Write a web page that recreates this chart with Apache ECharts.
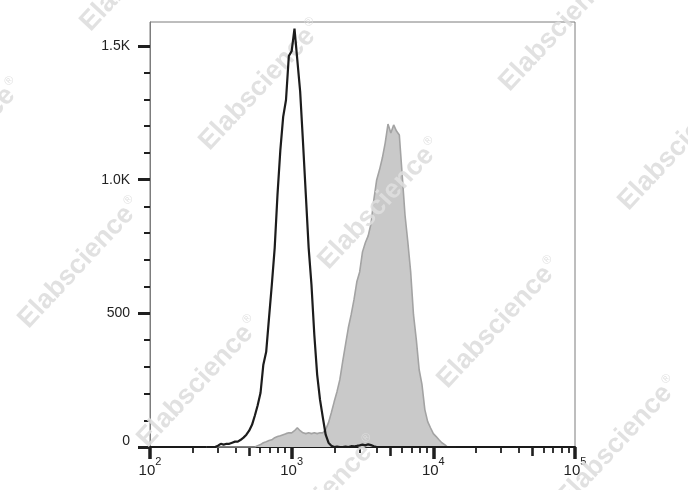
<!DOCTYPE html>
<html><head><meta charset="utf-8">
<script src="https://cdn.jsdelivr.net/npm/echarts@6/dist/echarts.min.js"></script>
<style>html,body{margin:0;padding:0;background:#fff}#chart{width:688px;height:490px}</style>
</head><body><div id="chart"></div>
<script>
// Fluorescence channel (bin centres, log-spaced)
const fluorescence = [251,263,275,288,302,316,331,347,363,380,398,417,437,457,479,501,525,550,575,603,631,661,692,724,759,794,832,871,912,955,
1000,1047,1096,1148,1202,1259,1318,1380,1445,1514,1585,1660,1738,1820,1905,1995,2089,2188,2291,2399,2512,2630,2754,2884,3020,3162,3311,3467,3631,3802,
3981,4169,4365,4571,4786,5012,5248,5495,5754,6026,6310,6607,6918,7244,7586,7943,8318,8710,9120,9550,
10000,10471,10965,11482,12023,12589,13183,13804,14454];
// Isotype control (black outline)
const isotypeCounts = [0,0,0,0,5,12,9,12,12,16,
20,20,27,35,46,61,83,118,155,203,
308,356,483,606,745,943,1111,1235,1298,1463,
1481,1565,1448,1330,1141,943,745,606,420,270,
177,110,46,16,5,0,2,0,0,2,
0,3,2,4,6,9,6,10,7,3,
0,0,0,0,0,0,0,0,0,0,
0,0,0,0,0,0,0,0,0,0,
0,0,0,0,0,0,0,0,0];
// Stained sample (grey filled)
const stainedCounts = [0,0,0,0,0,0,0,0,0,0,
0,0,0,0,0,0,0,0,5,9,
16,20,24,27,35,39,42,46,50,53,
53,61,72,61,53,50,53,50,53,50,
53,53,65,91,128,169,207,252,319,383,
446,495,551,618,655,730,764,790,835,925,
999,1037,1081,1137,1208,1175,1205,1182,1167,1018,
868,767,655,495,401,289,233,140,95,72,
50,39,27,16,9,0,0,0,0];
const yTickValues = [0,500,1000,1500];
const yTickLabels = ['0','500','1.0K','1.5K'];
const xDecadeExponents = [2,3,4,5];
const watermarkWord = 'Elabscience';

const FONT = '"Liberation Sans", Arial, Helvetica, sans-serif';
const chart = echarts.init(document.getElementById('chart'), null, {renderer:'canvas'});

const midTicks = [], minorTicks = [];
for (let d = 2; d < 5; d++) for (let m = 2; m <= 9; m++) {
  const v = d + Math.log10(m);
  (m === 5 ? midTicks : minorTicks).push(v);
}
const yMinor = [];
for (let v = 100; v < 1590; v += 100) if (v % 500) yMinor.push(v);

const watermarks = [];
for (let i = -2; i <= 5; i++) for (let j = -2; j <= 2; j++) {
  const cx = 261 + 119 * i + 181 * j, cy = 85 + 119 * i - 178 * j;
  if (cx < -120 || cx > 810 || cy < -100 || cy > 590) continue;
  watermarks.push({
    type: 'text', x: cx, y: cy, rotation: 47 * Math.PI / 180, z: 3, silent: true,
    style: {
      text: '{a|' + watermarkWord + '}{r|®}',
      align: 'center', verticalAlign: 'middle',
      rich: {
        a: {fontFamily: FONT, fontSize: 27, fontWeight: 'bold', fill: 'rgba(222,222,222,0.9)', color: 'rgba(222,222,222,0.9)'},
        r: {fontFamily: FONT, fontSize: 12, fill: 'rgba(222,222,222,0.9)', color: 'rgba(222,222,222,0.9)', verticalAlign: 'top', padding: [0,0,14,2]}
      }
    }
  });
}

const tickColor = '#1f1f1f';
const option = {
  animation: false,
  backgroundColor: '#ffffff',
  grid: {left: 150, right: 113, top: 22, bottom: 43, show: true, borderColor: '#7d7d7d', borderWidth: 1},
  xAxis: [
    {type: 'log', logBase: 10, min: 100, max: 100000, position: 'bottom',
     axisLine: {show: true, onZero: false, lineStyle: {color: '#1a1a1a', width: 2}},
     axisTick: {show: false}, axisLabel: {show: false}, splitLine: {show: false}, minorTick: {show: false}},
    {type: 'value', min: 2, max: 5, position: 'bottom',
     axisLine: {show: false, onZero: false}, splitLine: {show: false},
     axisTick: {show: true, customValues: xDecadeExponents, length: 12, lineStyle: {color: tickColor, width: 3.5}},
     axisLabel: {show: true, customValues: xDecadeExponents, margin: 9, showMinLabel: true, showMaxLabel: true,
       formatter: v => '{b|10}{s|' + v + '}',
       rich: {
         b: {fontFamily: FONT, fontSize: 15, color: '#222', lineHeight: 22, verticalAlign: 'bottom'},
         s: {fontFamily: FONT, fontSize: 11, color: '#222', lineHeight: 10, verticalAlign: 'top'}
       }}},
    {type: 'value', min: 2, max: 5, position: 'bottom',
     axisLine: {show: false, onZero: false}, splitLine: {show: false}, axisLabel: {show: false},
     axisTick: {show: true, customValues: midTicks, length: 9, lineStyle: {color: tickColor, width: 2.6}}},
    {type: 'value', min: 2, max: 5, position: 'bottom',
     axisLine: {show: false, onZero: false}, splitLine: {show: false}, axisLabel: {show: false},
     axisTick: {show: true, customValues: minorTicks, length: 6, lineStyle: {color: tickColor, width: 1.8}}}
  ],
  yAxis: [
    {type: 'value', min: 0, max: 1590, position: 'left',
     axisLine: {show: true, onZero: false, lineStyle: {color: '#7d7d7d', width: 1}}, splitLine: {show: false},
     axisTick: {show: true, customValues: yTickValues, length: 12, lineStyle: {color: tickColor, width: 3}},
     axisLabel: {show: true, customValues: yTickValues, margin: 20, fontFamily: FONT, fontSize: 14, color: '#222',
       formatter: v => { const k = yTickValues.indexOf(v); const t = k >= 0 ? yTickLabels[k] : ''; return v === 0 ? '{z|' + t + '}' : t; },
       rich: {z: {fontFamily: FONT, fontSize: 14, color: '#222', padding: [0, 0, 11, 0]}}}},
    {type: 'value', min: 0, max: 1590, position: 'left',
     axisLine: {show: false, onZero: false}, splitLine: {show: false}, axisLabel: {show: false},
     axisTick: {show: true, customValues: yMinor, length: 6, lineStyle: {color: tickColor, width: 2}}}
  ],
  series: [
    {type: 'line', name: 'Stained', xAxisIndex: 0, yAxisIndex: 0, z: 2,
     data: fluorescence.map((x, i) => [x, stainedCounts[i]]),
     symbol: 'none', showSymbol: false, smooth: false,
     lineStyle: {color: '#a3a3a3', width: 1.6}, areaStyle: {color: '#c9c9c9', opacity: 1}},
    {type: 'line', name: 'Isotype', xAxisIndex: 0, yAxisIndex: 0, z: 4,
     data: fluorescence.map((x, i) => [x, isotypeCounts[i]]),
     symbol: 'none', showSymbol: false, smooth: false,
     lineStyle: {color: '#1c1c1c', width: 2.2}}
  ],
  graphic: watermarks
};
chart.setOption(option);
</script>
</body></html>
